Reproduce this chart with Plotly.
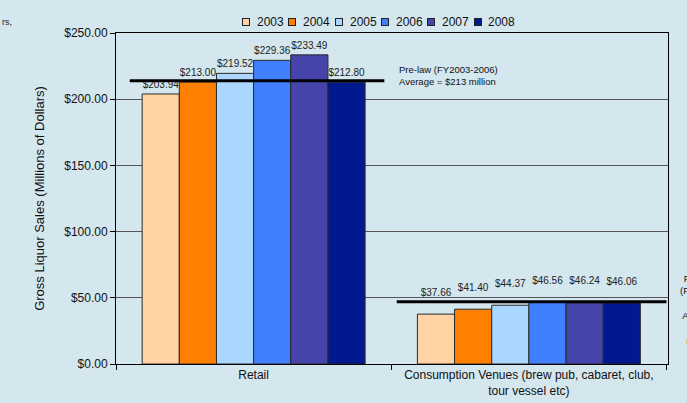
import plotly.graph_objects as go

categories = ["Retail", "Consumption Venues (brew pub, cabaret, club,<br>tour vessel etc)"]
years = ["2003", "2004", "2005", "2006", "2007", "2008"]
retail = [203.94, 213.00, 219.52, 229.36, 233.49, 212.80]
consumption = [37.66, 41.40, 44.37, 46.56, 46.24, 46.06]
prelaw_avg = [214, 47]
colors = ["#FFD3A3", "#FF8000", "#AAD6FF", "#4080FF", "#4444AA", "#00198F"]
y_ticks = [0, 50, 100, 150, 200, 250]

BG = "#d4e6ee"
FONT = "Liberation Sans, Arial, sans-serif"

fig = go.Figure()
for i, yr in enumerate(years):
    fig.add_trace(go.Bar(
        name=yr, x=categories, y=[retail[i], consumption[i]],
        marker=dict(color=colors[i], line=dict(color="#2a2a2a", width=1)),
        showlegend=False, hoverinfo="skip",
    ))
for i, yr in enumerate(years):
    fig.add_trace(go.Scatter(
        name=yr, x=categories, y=[retail[i], consumption[i]], mode="markers+text",
        marker=dict(size=[4, 24], opacity=0),
        text=["$%.2f" % v for v in (retail[i], consumption[i])], textposition="top center",
        textfont=dict(size=10, color="#222", family=FONT),
        cliponaxis=False, showlegend=False,
    ))

# pre-law average lines
fig.add_shape(type="line", xref="x", yref="y", x0=-0.45, x1=0.475,
              y0=prelaw_avg[0], y1=prelaw_avg[0], line=dict(color="black", width=3), layer="above")
fig.add_shape(type="line", xref="x", yref="y", x0=0.52, x1=1.5,
              y0=prelaw_avg[1], y1=prelaw_avg[1], line=dict(color="black", width=3), layer="above")

annotations = [
    dict(x=0.52, y=218, xref="x", yref="y", xanchor="left", yanchor="middle", align="left",
         text="Pre-law (FY2003-2006)<br>Average = $213 million", showarrow=False,
         font=dict(size=9.5, color="#111", family=FONT)),
    dict(x=1.058, y=41.5, xref="paper", yref="y", xanchor="center", yanchor="middle", align="center",
         text="Pre-law<br>(FY2003-<br>2006)<br>Average<br>= $43<br>million", showarrow=False,
         font=dict(size=9.5, color="#111", family=FONT)),
    dict(x=-116/552, y=1 + (33 - 22) / 331, xref="paper", yref="paper", xanchor="left", yanchor="middle",
         text="rs,", showarrow=False, font=dict(size=9, color="#222", family=FONT)),
]

# manual legend
step = 46.3 / 552
x_start = (246 - 116) / 552
ly = 1 + (33 - 22) / 331
for i, yr in enumerate(years):
    annotations.append(dict(x=x_start + i * step, y=ly, xref="paper", yref="paper",
                            xanchor="center", yanchor="middle", text="", showarrow=False,
                            width=6, height=6, bgcolor=colors[i], bordercolor="#222",
                            borderwidth=1, borderpad=0))
    annotations.append(dict(x=x_start + i * step + 9 / 552, y=ly, xref="paper", yref="paper",
                            xanchor="left", yanchor="middle", text=yr, showarrow=False,
                            font=dict(size=12, color="#111", family=FONT)))

fig.update_layout(
    width=687, height=403,
    margin=dict(l=116, r=19, t=33, b=39),
    paper_bgcolor=BG, plot_bgcolor=BG,
    barmode="group", bargap=0.19, bargroupgap=0,
    scattermode="group", scattergap=0.19,
    font=dict(family=FONT, color="#111"),
    annotations=annotations,
    xaxis=dict(tickson="boundaries", ticks="outside", ticklen=5, tickcolor="black",
               showline=True, linecolor="black", linewidth=1, mirror=True, automargin=False,
               tickfont=dict(size=12, color="#111"), showgrid=False),
    yaxis=dict(range=[0, 250], tickvals=y_ticks, tickformat="$,.2f", ticks="outside", ticklen=5,
               tickcolor="black", showline=True, linecolor="black", linewidth=1, mirror=True,
               gridcolor="#555", gridwidth=1, zeroline=False, automargin=False,
               tickfont=dict(size=12, color="#111"),
               title=dict(text="Gross Liquor Sales (Millions of Dollars)", standoff=16,
                          font=dict(size=13, color="#111"))),
)

fig.write_html("out.html")
